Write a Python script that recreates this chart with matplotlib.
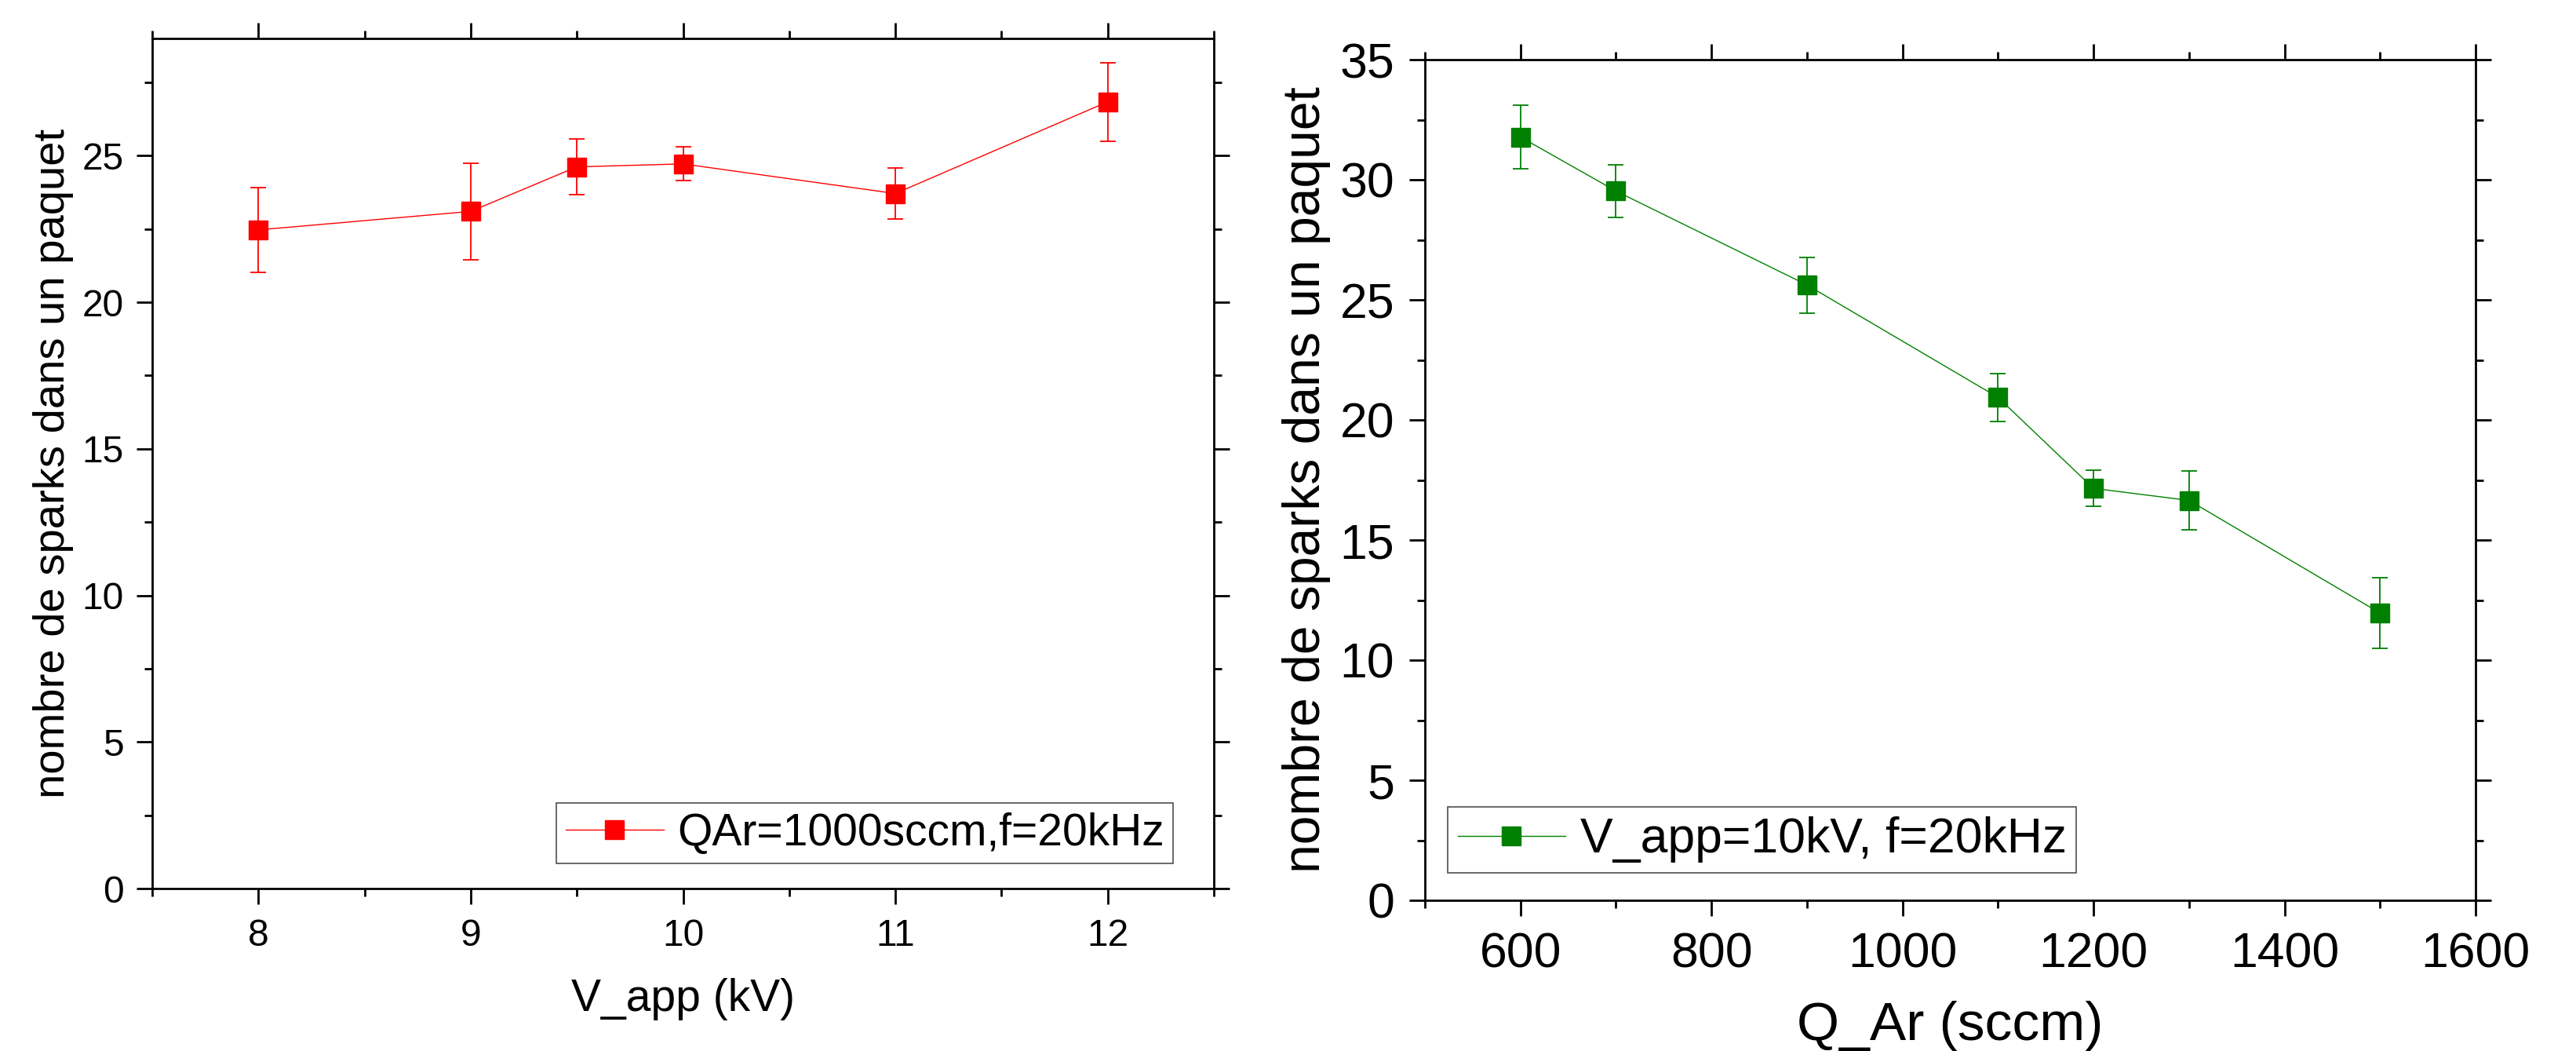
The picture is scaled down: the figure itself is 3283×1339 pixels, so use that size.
import matplotlib
matplotlib.use("Agg")
import matplotlib.pyplot as plt
from matplotlib.ticker import MultipleLocator

plt.rcParams['font.family'] = ['Liberation Sans', 'DejaVu Sans']

# left panel: sparks vs applied voltage
v_app = [8, 9, 9.5, 10, 11, 12]
sparks_v = [22.47, 23.1, 24.62, 24.72, 23.71, 26.84]
err_v = [1.44, 1.65, 0.95, 0.58, 0.88, 1.34]

# right panel: sparks vs argon flow
q_ar = [600, 700, 900, 1100, 1200, 1300, 1500]
sparks_q = [31.78, 29.53, 25.62, 20.94, 17.15, 16.65, 11.96]
err_q = [1.33, 1.09, 1.16, 1.0, 0.75, 1.24, 1.48]

ylabel = "nombre de sparks dans un paquet"
W, H = 3283, 1339
fig = plt.figure(figsize=(W / 100, H / 100), dpi=100)


def style_axes(ax, tick_fs, ypad, xpad):
    for s in ax.spines.values():
        s.set_linewidth(2.0)
    ax.tick_params(which='both', direction='out', top=True, right=True,
                   width=2.0, labelsize=tick_fs)
    ax.tick_params(which='major', length=14.4)
    ax.tick_params(which='minor', length=7.2)
    ax.tick_params(axis='y', pad=ypad)
    ax.tick_params(axis='x', pad=xpad)


# left
ax1 = fig.add_axes([194 / W, 1 - 1132 / H, 1353 / W, 1083 / H])
ax1.errorbar(v_app, sparks_v, yerr=err_v, fmt='none', ecolor='#ff0000',
             elinewidth=1.3, capsize=7.5, capthick=1.3)
ax1.plot(v_app, sparks_v, '-s', color='#ff0000', lw=1.0, ms=17,
         label="QAr=1000sccm,f=20kHz")
ax1.set_xlim(7.5, 12.5)
ax1.set_ylim(0, 29)
ax1.xaxis.set_major_locator(MultipleLocator(1))
ax1.xaxis.set_minor_locator(MultipleLocator(0.5))
ax1.yaxis.set_major_locator(MultipleLocator(5))
ax1.yaxis.set_minor_locator(MultipleLocator(2.5))
style_axes(ax1, 34.5, 11.5, 13)
ax1.set_xlabel("V_app (kV)", fontsize=41, labelpad=22)
ax1.set_ylabel(ylabel, fontsize=40.5, labelpad=8)
leg1 = ax1.legend(loc='lower right', bbox_to_anchor=(0.9616, 0.0295),
                  borderaxespad=0, fontsize=41, handlelength=2.2,
                  handletextpad=0.3, borderpad=0.2, fancybox=False,
                  edgecolor='#222222')
leg1.get_frame().set_linewidth(1.2)

# right
ax2 = fig.add_axes([1816 / W, 1 - 1147 / H, 1339 / W, 1071 / H])
ax2.errorbar(q_ar, sparks_q, yerr=err_q, fmt='none', ecolor='#008000',
             elinewidth=1.3, capsize=7.2, capthick=1.3)
ax2.plot(q_ar, sparks_q, '-s', color='#008000', lw=1.0, ms=17,
         label="V_app=10kV, f=20kHz")
ax2.set_xlim(500, 1600)
ax2.set_ylim(0, 35)
ax2.xaxis.set_major_locator(MultipleLocator(200))
ax2.xaxis.set_minor_locator(MultipleLocator(100))
ax2.yaxis.set_major_locator(MultipleLocator(5))
ax2.yaxis.set_minor_locator(MultipleLocator(2.5))
style_axes(ax2, 45, 13.5, 14)
ax2.set_xlabel("Q_Ar (sccm)", fontsize=50, labelpad=21)
ax2.set_ylabel(ylabel, fontsize=47.5, labelpad=8)
leg2 = ax2.legend(loc='lower left', bbox_to_anchor=(0.0217, 0.0327),
                  borderaxespad=0, fontsize=45, handlelength=2.2,
                  handletextpad=0.3, borderpad=0.2, fancybox=False,
                  edgecolor='#222222')
leg2.get_frame().set_linewidth(1.2)

fig.savefig("out.png", dpi=100)
